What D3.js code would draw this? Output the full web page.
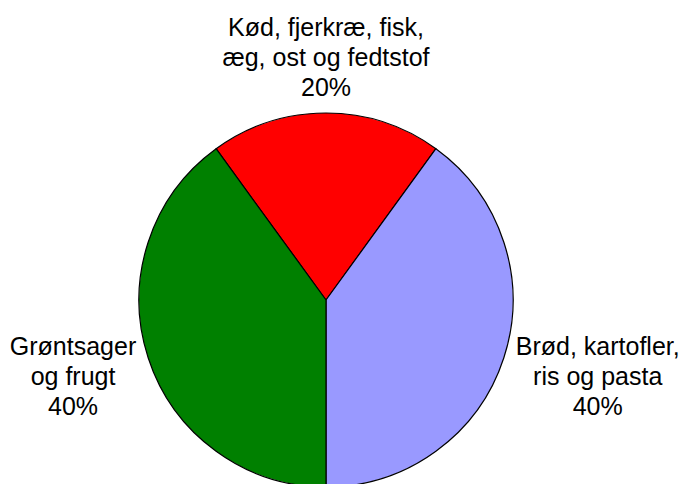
<!DOCTYPE html>
<html>
<head>
<meta charset="utf-8">
<script src="https://cdn.jsdelivr.net/npm/d3@7"></script>
<style>
  body { margin: 0; background: #fff; }
  text { font-family: "Liberation Sans", Arial, Helvetica, sans-serif; font-size: 25px; fill: #000; }
</style>
</head>
<body>
<svg id="pie"></svg>
<script>
// data
let groups = [
  ["Kød, fjerkræ, fisk,", "æg, ost og fedtstof"],
  ["Brød, kartofler,", "ris og pasta"],
  ["Grøntsager", "og frugt"]
];
let shares = [20, 40, 40];
let colors = ["#ff0000", "#9999ff", "#008000"];

let config = {
  'svg': { width: 681, height: 484 },
  'pie': { x: 326, y: 300, radius: 187 },
  'label': { gap: 12.5, lineHeight: 30 }
};

let svg = d3.select("svg#pie")
  .attr("width", config.svg.width)
  .attr("height", config.svg.height);

let plot = svg.append("g")
  .attr("transform", translate(config.pie.x, config.pie.y));

// first slice is centred on the top
let start = -Math.PI * shares[0] / d3.sum(shares);
let pie = d3.pie()
  .sort(null)
  .value(d => d)
  .startAngle(start)
  .endAngle(start + 2 * Math.PI);

let arc = d3.arc()
  .innerRadius(0)
  .outerRadius(config.pie.radius);

let slices = pie(shares);

plot.selectAll("path")
  .data(slices)
  .enter()
  .append("path")
  .attr("d", arc)
  .style("fill", (d, i) => colors[i])
  .style("stroke", "#000")
  .style("stroke-width", 1.2)
  .style("stroke-linejoin", "round");

// labels sit outside the pie along each slice's middle angle
slices.forEach(function(d, i) {
  let lines = groups[i].concat([shares[i] + "%"]);

  let g = plot.append("g");
  let text = g.append("text").attr("text-anchor", "middle");

  text.selectAll("tspan")
    .data(lines)
    .enter()
    .append("tspan")
    .attr("x", 0)
    .attr("y", (s, j) => j * config.label.lineHeight)
    .text(s => s);

  let box = g.node().getBBox();
  let hw = box.width / 2;
  let hh = box.height / 2;
  let boxMid = box.y + hh;

  let mid = (d.startAngle + d.endAngle) / 2;
  let ux = Math.sin(mid);
  let uy = -Math.cos(mid);
  let m = Math.max(Math.abs(ux), Math.abs(uy));

  let r = config.pie.radius + config.label.gap;
  let cx = r * ux + hw * ux / m;
  let cy = r * uy + hh * uy / m;

  g.attr("transform", translate(cx, cy - boxMid));
});

function translate(x, y) {
  return 'translate(' + x + ',' + y + ')';
}
</script>
</body>
</html>
